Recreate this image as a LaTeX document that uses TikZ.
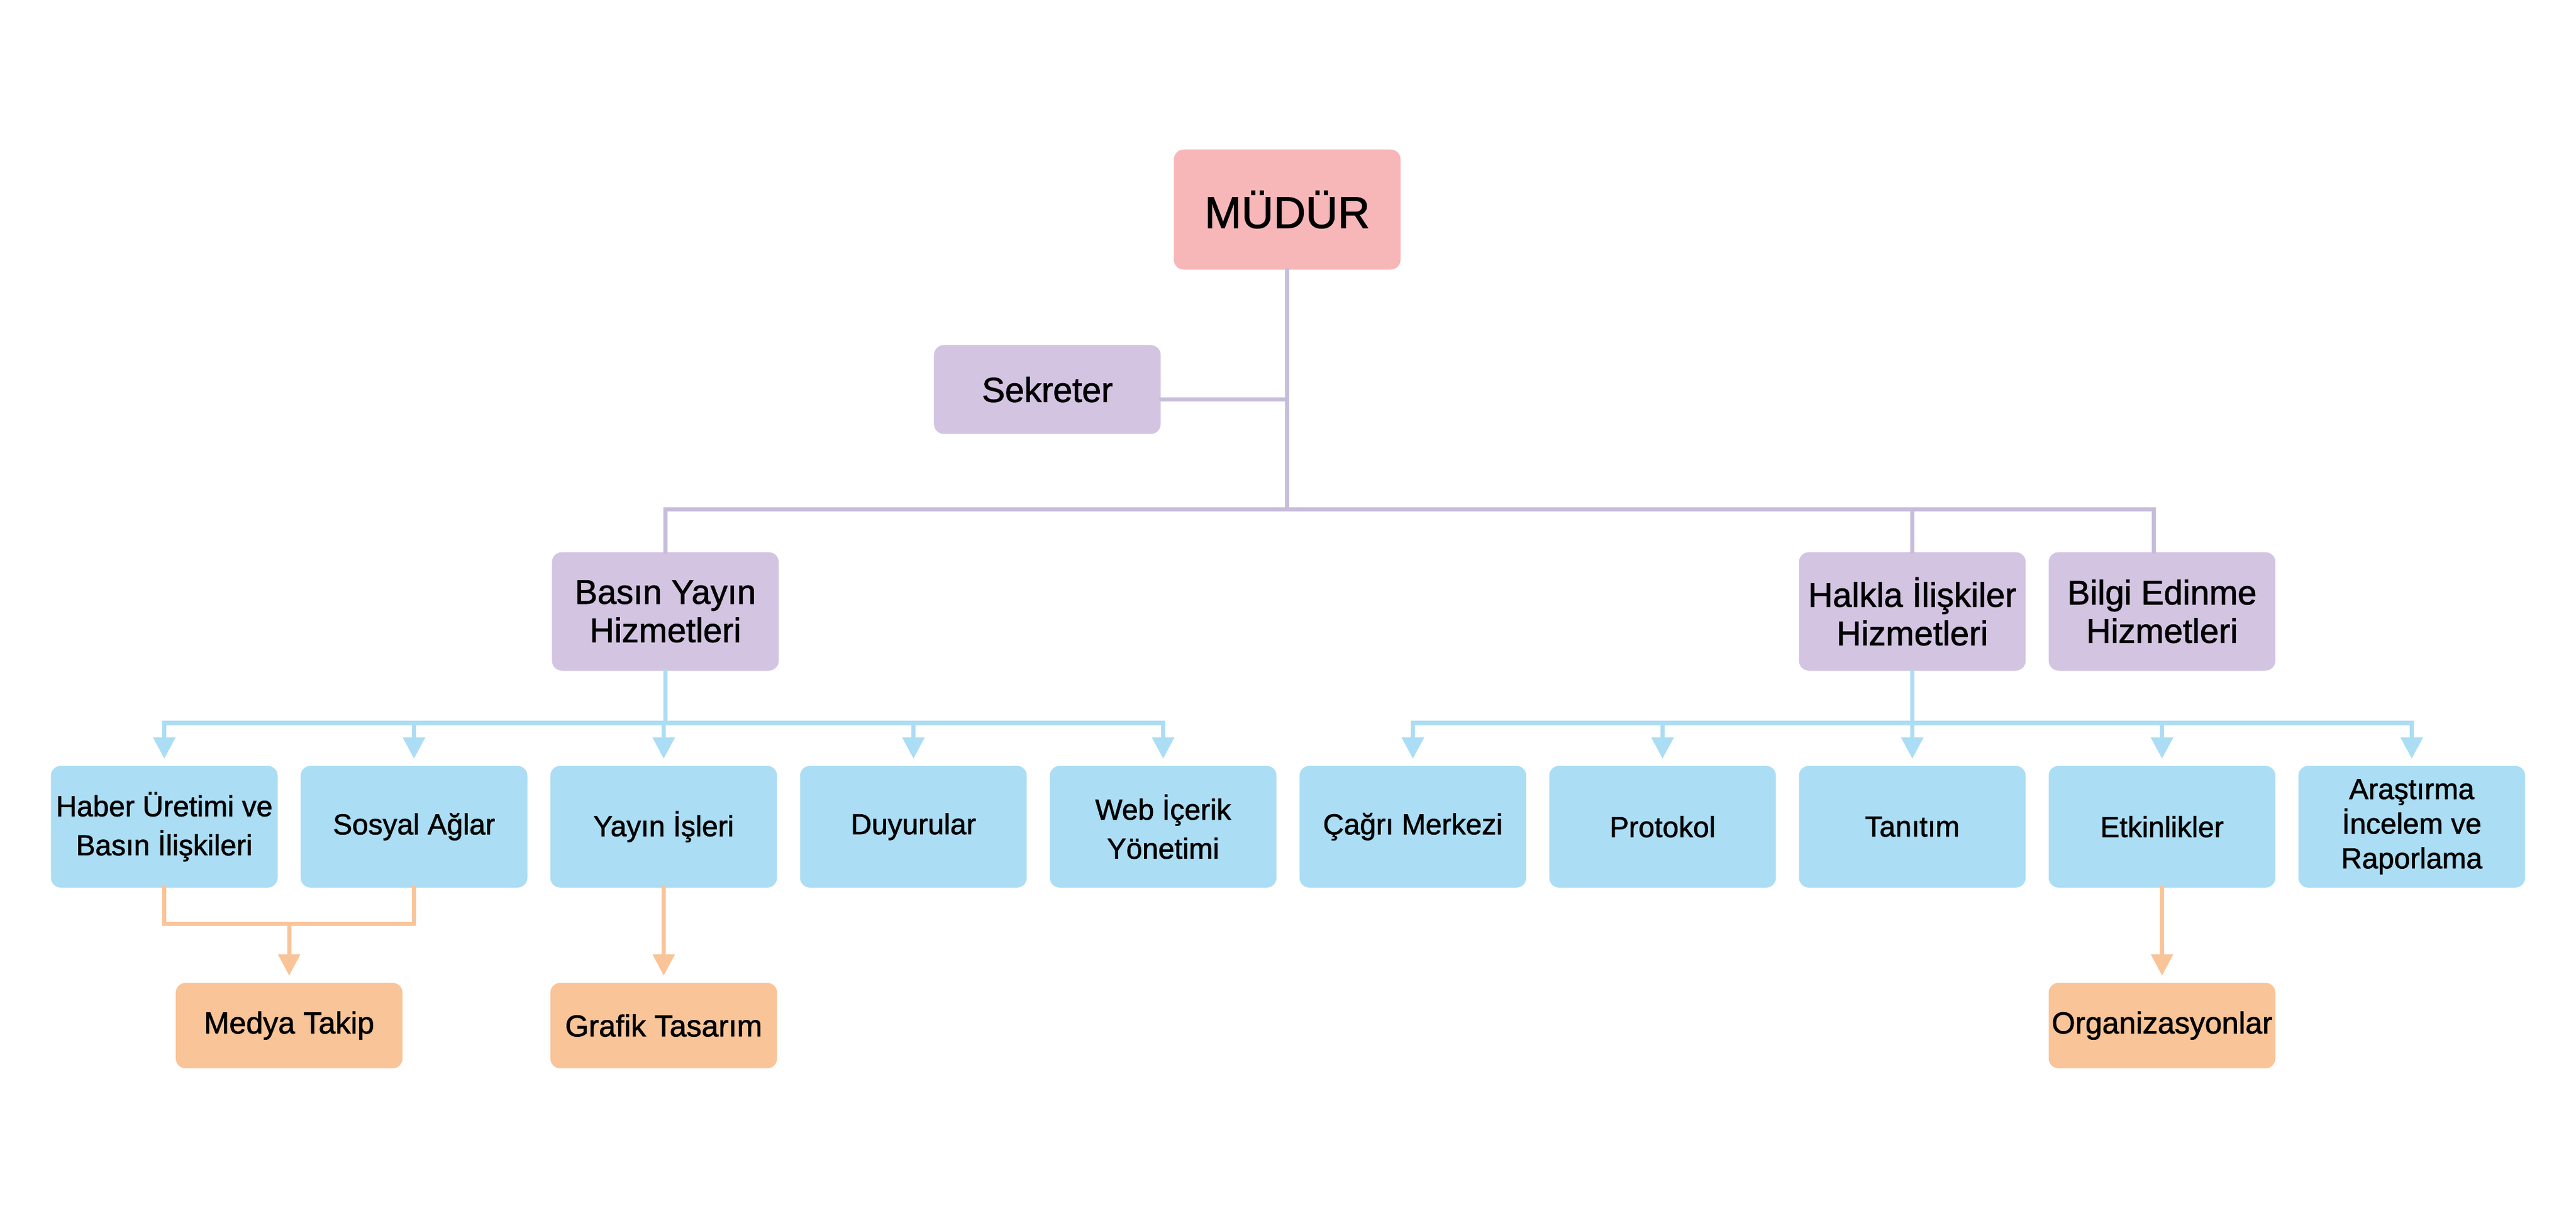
\documentclass[tikz,border=0pt]{standalone}
\usepackage{fontspec}
\setmainfont{Liberation Sans}[FakeBold=1.4]
\usetikzlibrary{arrows.meta}

\definecolor{mudurpink}{HTML}{F7B7B9}
\definecolor{lilac}{HTML}{D3C4E2}
\definecolor{lilacline}{HTML}{C8BCDB}
\definecolor{skyblue}{HTML}{ABDDF4}
\definecolor{peach}{HTML}{F9C498}

\begin{document}
\begin{tikzpicture}[x=0.2mm, y=-0.2mm,
        box/.style={rectangle, rounded corners=1.2mm, inner sep=0pt, align=center, minimum width=27.6mm},
        bluebox/.style={box, fill=skyblue, minimum height=14.8mm, font=\fontsize{10}{13.5}\selectfont},
        purplebox/.style={box, fill=lilac, minimum height=14.4mm, font=\fontsize{11.8}{13.3}\selectfont},
        orangebox/.style={box, fill=peach, minimum height=10.4mm, font=\fontsize{10.5}{12}\selectfont},
        pline/.style={draw=lilacline, line width=0.5mm, line cap=rect},
        bline/.style={draw=skyblue, line width=0.55mm, line cap=rect},
        barrow/.style={bline, -{Triangle[width=2.6mm, length=2.6mm]}, shorten >=0.8mm},
        oline/.style={draw=peach, line width=0.5mm, line cap=rect},
        oarrow/.style={oline, -{Triangle[width=2.6mm, length=2.6mm]}, shorten >=0.8mm}]
        \useasboundingbox (0,0) rectangle (1568,741);

        % Nodes
        \node (mudur) [box, fill=mudurpink, minimum height=14.6mm, font=\fontsize{15.4}{18}\selectfont] at (783.5, 127.5) {MÜDÜR};
        \node (sekreter) [box, fill=lilac, minimum height=10.8mm, font=\fontsize{12}{14}\selectfont] at (637.5, 237) {Sekreter};

        \node (basin) [purplebox] at (405, 372) {Basın Yayın\\Hizmetleri};
        \node (halkla) [purplebox] at (1164, 372) {Halkla İlişkiler\\Hizmetleri};
        \node (bilgi) [purplebox] at (1316, 372) {Bilgi Edinme\\Hizmetleri};

        \node (haber) [bluebox] at (100, 503) {Haber Üretimi ve\\Basın İlişkileri};
        \node (sosyal) [bluebox] at (252, 503) {Sosyal Ağlar};
        \node (yayin) [bluebox] at (404, 503) {Yayın İşleri};
        \node (duyuru) [bluebox] at (556, 503) {Duyurular};
        \node (web) [bluebox] at (708, 503) {Web İçerik\\Yönetimi};
        \node (cagri) [bluebox] at (860, 503) {Çağrı Merkezi};
        \node (protokol) [bluebox] at (1012, 503) {Protokol};
        \node (tanitim) [bluebox] at (1164, 503) {Tanıtım};
        \node (etkinlik) [bluebox] at (1316, 503) {Etkinlikler};
        \node (arastirma) [bluebox, font=\fontsize{10}{12}\selectfont] at (1468, 503) {Araştırma\\İncelem ve\\Raporlama};

        \node (medya) [orangebox] at (176, 624) {Medya Takip};
        \node (grafik) [orangebox] at (404, 624) {Grafik Tasarım};
        \node (organizasyon) [orangebox] at (1316, 624) {Organizasyonlar};

        % Bus points
        \coordinate (pbus) at (783.5, 310);
        \coordinate (bbus) at (405, 440);
        \coordinate (ojoin) at (176, 562);

        % Edges
        \draw[pline] (mudur) -- (pbus);
        \draw[pline] ([yshift=-1.2mm]sekreter.east) -- ([yshift=-1.2mm]sekreter.east -| mudur);
        \draw[pline] (basin) -- (basin |- pbus) -- ([xshift=-1mm]bilgi.north |- pbus) -- ([xshift=-1mm]bilgi.north);
        \draw[pline] (halkla |- pbus) -- (halkla);

        \draw[bline] (basin) -- (basin |- bbus);
        \draw[bline] (haber |- bbus) -- (web |- bbus);
        \draw[barrow] (haber |- bbus) -- (haber);
        \draw[barrow] (sosyal |- bbus) -- (sosyal);
        \draw[barrow] (yayin |- bbus) -- (yayin);
        \draw[barrow] (duyuru |- bbus) -- (duyuru);
        \draw[barrow] (web |- bbus) -- (web);

        \draw[bline] (halkla) -- (halkla |- bbus);
        \draw[bline] (cagri |- bbus) -- (arastirma |- bbus);
        \draw[barrow] (cagri |- bbus) -- (cagri);
        \draw[barrow] (protokol |- bbus) -- (protokol);
        \draw[barrow] (tanitim |- bbus) -- (tanitim);
        \draw[barrow] (etkinlik |- bbus) -- (etkinlik);
        \draw[barrow] (arastirma |- bbus) -- (arastirma);

        \draw[oline] (haber) -- (haber |- ojoin) -- (sosyal |- ojoin) -- (sosyal);
        \draw[oarrow] (ojoin) -- (medya);
        \draw[oarrow] (yayin) -- (grafik);
        \draw[oarrow] (etkinlik) -- (organizasyon);
    \end{tikzpicture}
\end{document}
